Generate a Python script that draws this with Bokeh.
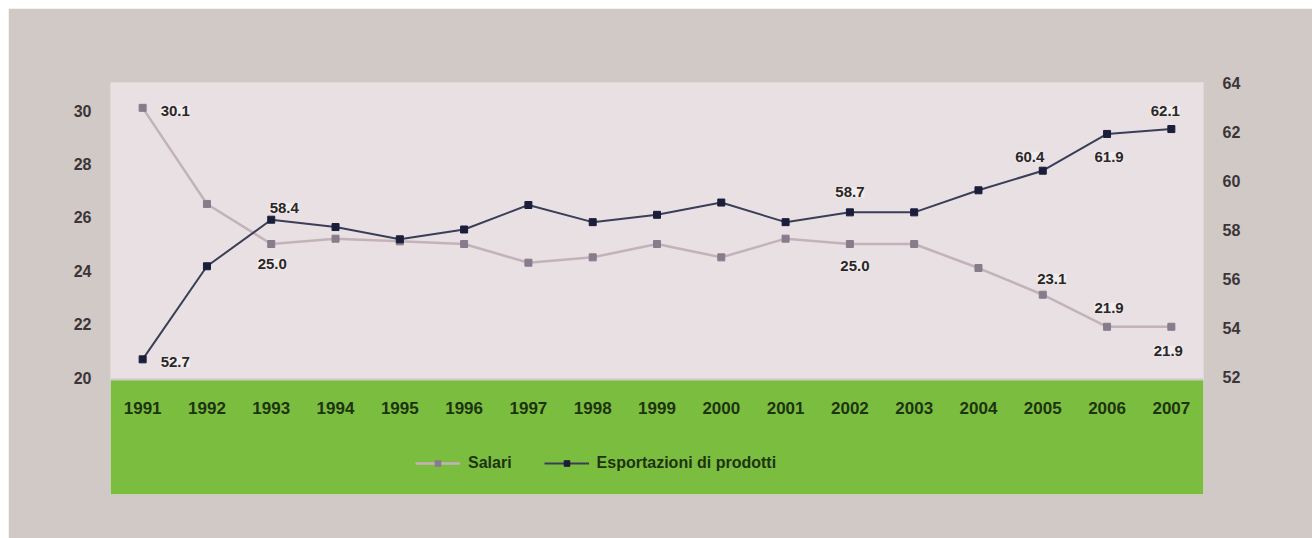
from bokeh.plotting import figure
from bokeh.models import (Range1d, LinearAxis, FixedTicker, BoxAnnotation,
                          Legend, LegendItem, FactorRange)
from bokeh.core.properties import value
from bokeh.embed import file_html
from bokeh.resources import INLINE

# ---- data -------------------------------------------------------------
years = ["1991", "1992", "1993", "1994", "1995", "1996", "1997", "1998", "1999",
         "2000", "2001", "2002", "2003", "2004", "2005", "2006", "2007"]
salari = [30.1, 26.5, 25.0, 25.2, 25.1, 25.0, 24.3, 24.5, 25.0,
          24.5, 25.2, 25.0, 25.0, 24.1, 23.1, 21.9, 21.9]
partecipazione = [52.7, 56.5, 58.4, 58.1, 57.6, 58.0, 59.0, 58.3, 58.6,
                  59.1, 58.3, 58.7, 58.7, 59.6, 60.4, 61.9, 62.1]
left_ticks = [20, 22, 24, 26, 28, 30]
right_ticks = [52, 54, 56, 58, 60, 62, 64]
name_salari = "Salari"
name_part = "Esportazioni di prodotti"

# labelled points: (index, x offset, y offset, align)
salari_labels = [(0, 18, 3, "left"), (2, 1, 20, "center"), (11, 5, 22, "center"),
                 (14, 9, -16, "center"), (15, 2, -19, "center"), (16, -3, 24, "center")]
part_labels = [(0, 18, 3, "left"), (2, 13, -12, "center"), (11, 0, -20, "center"),
               (14, -13, -14, "center"), (15, 2, 23, "center"), (16, -6, -18, "center")]

# ---- layout (pixels inside the figure) --------------------------------
FW, FH = 1093, 412          # frame
VAL_BOTTOM_PX = 295         # where the value scales start (20 / 52)
PLOT_BOTTOM_PX = 296        # bottom of the light plot area
GREEN_TOP_PX = 298
YEAR_PX = 325
L_PX_PER_UNIT = 26.7
R_PX_PER_UNIT = 24.5

l_end = 20 + VAL_BOTTOM_PX / L_PX_PER_UNIT
l_start = 20 - (FH - VAL_BOTTOM_PX) / L_PX_PER_UNIT
r_end = 52 + (VAL_BOTTOM_PX - 1) / R_PX_PER_UNIT
r_start = 52 - (FH - VAL_BOTTOM_PX + 1) / R_PX_PER_UNIT

def px_to_left(py):
    return 20 - (py - VAL_BOTTOM_PX) / L_PX_PER_UNIT

OUTER = "#d1c9c6"
PLOT_BG = "#e8e0e2"
GREEN = "#7bbd3e"
FONT = value("Liberation Sans")

p = figure(x_range=FactorRange(*years), y_range=Range1d(l_start, l_end),
           frame_width=FW, frame_height=FH,
           min_border_left=102, min_border_right=109, min_border_top=74,
           min_border_bottom=44, x_axis_location=None, y_axis_location=None,
           output_backend="svg", toolbar_location=None,
           background_fill_color=OUTER, border_fill_color=OUTER,
           outline_line_color=None)
p.margin = (8, 0, 0, 8)
p.grid.visible = False
p.extra_y_ranges = {"right": Range1d(r_start, r_end)}

# plot area and the green band underneath
p.add_layout(BoxAnnotation(bottom=px_to_left(PLOT_BOTTOM_PX), fill_color=PLOT_BG,
                           fill_alpha=1, line_color=None, level="underlay"))
p.add_layout(BoxAnnotation(top=px_to_left(GREEN_TOP_PX), fill_color=GREEN,
                           fill_alpha=1, line_color=None, level="underlay"))

# axes
def style_axis(ax, ticks):
    ax.ticker = FixedTicker(ticks=ticks)
    ax.axis_line_color = None
    ax.major_tick_line_color = None
    ax.minor_tick_line_color = None
    ax.major_label_text_font = "Liberation Sans"
    ax.major_label_text_font_style = "bold"
    ax.major_label_text_font_size = "16px"
    ax.major_label_text_color = "#3b3538"
    ax.major_label_standoff = 13

la = LinearAxis()
style_axis(la, left_ticks)
p.add_layout(la, "left")
ra = LinearAxis(y_range_name="right")
style_axis(ra, right_ticks)
p.add_layout(ra, "right")

# series
PINK_LINE = "#c3b2ba"
PINK_MARK = "#877b8c"
BLUE_LINE = "#3b3e58"
BLUE_MARK = "#1b1e3a"

sl = p.line(years, salari, line_color=PINK_LINE, line_width=2.5)
sm = p.scatter(years, salari, marker="square", size=7, fill_color=PINK_MARK,
               line_color=PINK_MARK)
bl = p.line(years, partecipazione, line_color=BLUE_LINE, line_width=2,
            y_range_name="right")
bm = p.scatter(years, partecipazione, marker="square", size=7, fill_color=BLUE_MARK,
               line_color=BLUE_MARK, y_range_name="right")

# value labels
def add_labels(specs, values, range_name):
    for i, dx, dy, align in specs:
        kw = {} if range_name is None else {"y_range_name": range_name}
        p.text(x=[years[i]], y=[values[i]], text=[f"{values[i]:.1f}"],
               x_offset=dx, y_offset=dy, text_align=align, text_baseline="middle",
               text_font=FONT, text_font_style="bold", text_font_size="15px",
               text_color="#2b2729", background_fill_color="#f3efef",
               background_fill_alpha=0.85, **kw)

add_labels(salari_labels, salari, None)
add_labels(part_labels, partecipazione, "right")

# year labels in the green band
p.text(x=years, y=[px_to_left(YEAR_PX)] * len(years), text=years,
       text_align="center", text_baseline="middle", text_font=FONT,
       text_font_style="bold", text_font_size="17px", text_color="#1d3412")

legend = Legend(items=[LegendItem(label=name_salari, renderers=[sl, sm]),
                       LegendItem(label=name_part, renderers=[bl, bm])],
                orientation="horizontal", location=(305, 22),
                background_fill_alpha=0, border_line_color=None,
                glyph_width=45, glyph_height=14, label_standoff=8, spacing=32,
                padding=0, margin=0, label_text_font="Liberation Sans",
                label_text_font_style="bold", label_text_font_size="16px",
                label_text_color="#1d3412")
p.add_layout(legend, "center")

open("out.html", "w").write(file_html(p, INLINE))
